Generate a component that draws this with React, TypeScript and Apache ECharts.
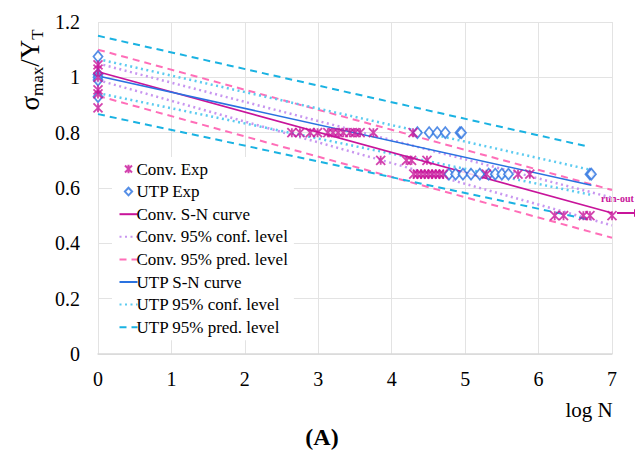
import React, { useEffect, useRef } from "react";
import * as echarts from "echarts";

// Experimental data (log N, sigma_max / Y_T)
const convExpLogN = [0, 0, 0, 0, 0, 0, 2.64, 2.75, 2.89, 2.99, 3.13, 3.2, 3.27, 3.34, 3.43, 3.5, 3.57, 3.75, 4.29, 3.85, 4.2, 4.27, 4.48, 4.3, 4.35, 4.4, 4.45, 4.5, 4.55, 4.6, 4.65, 4.7, 5.29, 5.72, 5.88, 6.22, 6.34, 6.61, 6.7, 7.0];
const convExpRatio = [1.045, 1.03, 1.0, 0.955, 0.94, 0.89, 0.8, 0.8, 0.8, 0.8, 0.8, 0.8, 0.8, 0.8, 0.8, 0.8, 0.8, 0.8, 0.8, 0.7, 0.7, 0.7, 0.7, 0.65, 0.65, 0.65, 0.65, 0.65, 0.65, 0.65, 0.65, 0.65, 0.65, 0.65, 0.65, 0.5, 0.5, 0.5, 0.5, 0.5];
const utpExpLogN = [0, 0, 0, 0, 0, 4.35, 4.51, 4.62, 4.73, 4.93, 4.95, 4.78, 4.87, 4.97, 5.08, 5.2, 5.32, 5.41, 5.5, 5.59, 6.7, 6.72];
const utpExpRatio = [1.075, 1.01, 1.0, 0.99, 0.93, 0.8, 0.8, 0.8, 0.8, 0.8, 0.8, 0.65, 0.65, 0.65, 0.65, 0.65, 0.65, 0.65, 0.65, 0.65, 0.65, 0.65];

// Fitted curves and bands: [logN, ratio] end points
const convSN = [[0, 1.02], [7, 0.51]];
const convConfUpper = [[0, 1.05], [7, 0.565]];
const convConfLower = [[0, 0.99], [7, 0.465]];
const convPredUpper = [[0, 1.1], [7, 0.593]];
const convPredLower = [[0, 0.933], [7, 0.42]];
const utpSN = [[0, 1.005], [6.72, 0.61]];
const utpConfUpper = [[0, 1.066], [6.72, 0.665]];
const utpConfLower = [[0, 0.943], [6.72, 0.575]];
const utpPredUpper = [[0, 1.15], [6.67, 0.75]];
const utpPredLower = [[0, 0.867], [6.7, 0.485]];

const xTicks = [0, 7, 1];
const yTicks = [0, 1.2, 0.2];

const MAGENTA = "#c8149a";
const BLUE = "#2a72e0";
const LAVENDER = "#c896f0";
const PINK = "#ff6eb8";
const SKY = "#5ccbf0";
const CYAN = "#1ab2e2";
const SERIF = "'Liberation Serif', 'Times New Roman', serif";

const STAR = "path://M0,0L10,10M10,0L0,10M5,0L5,10";
const STAR_ICON = "path://M0,0L0,0M18,10L18,10M5.5,1.5L12.5,8.5M12.5,1.5L5.5,8.5M9,0.8L9,9.2";
const DIAMOND_ICON = "path://M0,0L0,0M18,10L18,10M9,1.2L12.6,5L9,8.8L5.4,5Z";

function lineSeries(name: string, data: number[][], color: string, type: any, width: number) {
  return {
    name,
    type: "line",
    data,
    symbol: "none",
    showSymbol: false,
    lineStyle: { color, type, width, cap: "butt" },
    itemStyle: { color, opacity: 0 },
    z: 2,
  };
}

export default function App() {
  const ref = useRef<HTMLDivElement>(null);
  useEffect(() => {
    if (!ref.current) return;
    const chart = echarts.init(ref.current, null, { renderer: "svg" });
    const option: any = {
      animation: false,
      backgroundColor: "#fff",
      grid: { left: 98, right: 31, top: 22, bottom: 104 },
      xAxis: {
        type: "value",
        min: xTicks[0],
        max: xTicks[1],
        interval: xTicks[2],
        axisLine: { show: true, lineStyle: { color: "#d9d9d9", width: 1.5 } },
        axisTick: { show: false },
        splitLine: { show: true, lineStyle: { color: "#e3e3e3", width: 1 } },
        axisLabel: { color: "#000", fontFamily: SERIF, fontSize: 20, margin: 15 },
      },
      yAxis: {
        type: "value",
        min: yTicks[0],
        max: yTicks[1],
        interval: yTicks[2],
        axisLine: { show: false },
        axisTick: { show: false },
        splitLine: { show: true, lineStyle: { color: "#e3e3e3", width: 1 } },
        axisLabel: { color: "#000", fontFamily: SERIF, fontSize: 20, margin: 18 },
      },
      legend: {
        orient: "vertical",
        left: 112,
        top: 157,
        padding: [3, 6, 4, 5],
        itemGap: 4.6,
        itemWidth: 18,
        itemHeight: 10,
        backgroundColor: "#fff",
        textStyle: { color: "#000", fontFamily: SERIF, fontSize: 17, lineHeight: 18, padding: [0, 0, 0, -6] },
        data: [
          { name: "Conv. Exp", icon: STAR_ICON },
          { name: "UTP Exp", icon: DIAMOND_ICON },
          "Conv. S-N curve",
          "Conv. 95% conf. level",
          "Conv. 95% pred. level",
          "UTP S-N curve",
          "UTP 95% conf. level",
          "UTP 95% pred. level",
        ],
      },
      series: [
        lineSeries("Conv. 95% conf. level", convConfUpper, LAVENDER, [2, 3.5], 2.5),
        lineSeries("Conv. 95% conf. level", convConfLower, LAVENDER, [2, 3.5], 2.5),
        lineSeries("Conv. 95% pred. level", convPredUpper, PINK, [7, 5], 2),
        lineSeries("Conv. 95% pred. level", convPredLower, PINK, [7, 5], 2),
        lineSeries("UTP 95% conf. level", utpConfUpper, SKY, [2, 3.5], 2.5),
        lineSeries("UTP 95% conf. level", utpConfLower, SKY, [2, 3.5], 2.5),
        lineSeries("UTP 95% pred. level", utpPredUpper, CYAN, [7, 5], 2),
        lineSeries("UTP 95% pred. level", utpPredLower, CYAN, [7, 5], 2),
        lineSeries("Conv. S-N curve", convSN, MAGENTA, "solid", 1.6),
        lineSeries("UTP S-N curve", utpSN, BLUE, "solid", 1.6),
        {
          name: "UTP Exp",
          type: "scatter",
          data: utpExpLogN.map((x, i) => [x, utpExpRatio[i]]),
          symbol: "diamond",
          symbolSize: [9, 11],
          itemStyle: { color: "#fff", borderColor: BLUE, borderWidth: 1.8 },
          z: 4,
        },
        {
          name: "Conv. Exp",
          type: "scatter",
          data: convExpLogN.map((x, i) => [x, convExpRatio[i]]),
          symbol: STAR,
          symbolSize: 9,
          itemStyle: { color: "none", borderColor: MAGENTA, borderWidth: 1.8 },
          z: 5,
        },
      ],
      graphic: [
        {
          type: "text",
          x: 30,
          y: 70,
          rotation: Math.PI / 2,
          style: {
            text: "{a|σ}{b|max}{a|/Y}{b|T}",
            align: "center",
            verticalAlign: "middle",
            fill: "#000",
            rich: {
              a: { fontFamily: SERIF, fontSize: 27, lineHeight: 32, fill: "#000" },
              b: { fontFamily: SERIF, fontSize: 17, lineHeight: 12, verticalAlign: "bottom", fill: "#000" },
            },
          },
        },
        {
          type: "text",
          x: 589,
          y: 410,
          style: { text: "log N", fontFamily: SERIF, fontSize: 21, fill: "#000", align: "center", verticalAlign: "middle" },
        },
        {
          type: "text",
          x: 322,
          y: 437,
          style: { text: "(A)", fontFamily: SERIF, fontSize: 24, fontWeight: "bold", fill: "#000", align: "center", verticalAlign: "middle" },
        },
        {
          type: "text",
          x: 601,
          y: 198,
          style: { text: "run-out", fontFamily: SERIF, fontSize: 10, fontWeight: "bold", fill: MAGENTA, align: "left", verticalAlign: "middle" },
        },
        {
          type: "line",
          shape: { x1: 617, y1: 213, x2: 636, y2: 213 },
          style: { stroke: MAGENTA, lineWidth: 2 },
        },
        {
          type: "polygon",
          shape: { points: [[634, 209], [641, 213], [634, 217]] },
          style: { fill: MAGENTA },
        },
      ],
    };
    chart.setOption(option);
    return () => chart.dispose();
  }, []);
  return <div ref={ref} style={{ width: 643, height: 458, margin: -8 }} />;
}
